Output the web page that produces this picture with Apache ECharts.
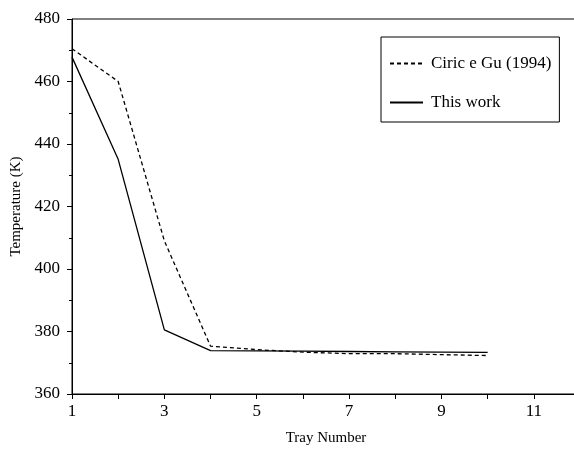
<!DOCTYPE html>
<html>
<head>
<meta charset="utf-8">
<script src="https://cdn.jsdelivr.net/npm/echarts@6/dist/echarts.min.js"></script>
<style>
  html, body { margin: 0; padding: 0; background: #fff; }
  #chart { width: 574px; height: 450px; }
</style>
</head>
<body>
<div id="chart"></div>
<script>
// ---- data ----
const trays = [1, 2, 3, 4, 5, 6, 7, 8, 9, 10]
const ciricGu = [470.5, 460.0, 409.0, 375.3, 374.2, 373.4, 372.9, 372.9, 372.6, 372.3]
const thisWork = [467.8, 435.1, 380.5, 373.9, 373.8, 373.7, 373.6, 373.5, 373.4, 373.3]

const serif = '"Liberation Serif", "DejaVu Serif", serif'

function pairs(xs, ys) {
  return xs.map((x, i) => [x, ys[i]])
}

const chart = echarts.init(document.getElementById('chart'))

chart.setOption({
  backgroundColor: '#fff',
  animation: false,
  grid: {
    left: 72, top: 19, width: 508, bottom: 56,
    outerBoundsMode: 'none',
    show: true, borderColor: '#000', borderWidth: 1
  },
  legend: {
    orient: 'vertical',
    left: 381, top: 37,
    padding: [18, 8, 11, 8],
    itemGap: 22,
    itemWidth: 33, itemHeight: 17,
    borderColor: '#000', borderWidth: 1,
    itemStyle: { opacity: 0 },
    textStyle: { fontFamily: serif, fontSize: 17, color: '#000', padding: [0, 0, 0, 3] },
    data: ['Ciric e Gu (1994)', 'This work']
  },
  xAxis: {
    type: 'value',
    min: 1, max: 12, interval: 1,
    name: 'Tray Number',
    nameLocation: 'middle',
    nameGap: 37,
    nameTextStyle: { fontFamily: serif, fontSize: 15, color: '#000' },
    axisLine: { lineStyle: { color: '#000', width: 1 } },
    axisTick: { show: true, inside: false, length: 5, lineStyle: { color: '#000' } },
    axisLabel: {
      fontFamily: serif, fontSize: 17, color: '#000', margin: 9,
      formatter: v => (v % 2 === 1 ? String(v) : '')
    },
    splitLine: { show: false }
  },
  yAxis: {
    type: 'value',
    min: 360, max: 480, interval: 20,
    name: 'Temperature (K)',
    nameLocation: 'middle',
    nameGap: 45,
    nameTextStyle: { fontFamily: serif, fontSize: 15, color: '#000' },
    axisLine: { show: true, lineStyle: { color: '#000', width: 1 } },
    axisTick: { show: true, inside: false, length: 5, lineStyle: { color: '#000' } },
    minorTick: { show: true, splitNumber: 2, length: 3, lineStyle: { color: '#000' } },
    axisLabel: { fontFamily: serif, fontSize: 17, color: '#000', margin: 12 },
    splitLine: { show: false }
  },
  series: [
    {
      name: 'Ciric e Gu (1994)',
      type: 'line',
      symbol: 'none',
      data: pairs(trays, ciricGu),
      lineStyle: { color: '#000', width: 1.3, type: [4, 3] },
      itemStyle: { color: '#000' }
    },
    {
      name: 'This work',
      type: 'line',
      symbol: 'none',
      data: pairs(trays, thisWork),
      lineStyle: { color: '#000', width: 1.3, type: 'solid' },
      itemStyle: { color: '#000' }
    }
  ]
})
</script>
</body>
</html>
